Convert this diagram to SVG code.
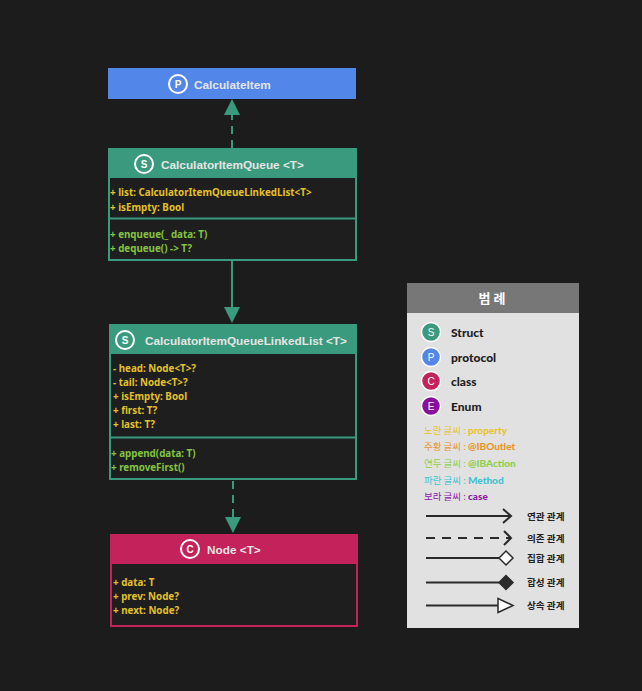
<svg xmlns="http://www.w3.org/2000/svg" width="642" height="691" viewBox="0 0 642 691">
  <style>
    .hdr { font-family: "Liberation Sans", Arial, sans-serif; font-weight: bold; font-size: 11.8px; fill: #e4e4e4; }
    .badge { fill: none; stroke: #ffffff; stroke-width: 2; }
    .badgeTxt { font-family: "Liberation Sans", Arial, sans-serif; font-weight: bold; font-size: 10px; fill: #ffffff; text-anchor: middle; }
    .attr { font-family: "Noto Sans", sans-serif; font-weight: bold; font-size: 9.8px; fill: #e3c12c; }
    .meth { font-family: "Noto Sans", sans-serif; font-weight: bold; font-size: 9.8px; fill: #84c441; }
    .body { fill: #1e1e1e; stroke-width: 2; }
    .conn { stroke: #3a9a7d; stroke-width: 2; fill: none; }
    .kind { font-family: "Lato", sans-serif; font-weight: 900; font-size: 12px; fill: #1e1e1e; }
    .lgBadge { stroke: #ffffff; stroke-width: 1.5; }
    .lgBadgeTxt { font-family: "Liberation Sans", Arial, sans-serif; font-size: 10px; fill: #ffffff; text-anchor: middle; }
    .note { font-family: "Noto Sans CJK KR", sans-serif; font-size: 9.5px; }
    .noteKey { font-family: "Lato", "Noto Sans CJK KR", sans-serif; font-weight: 900; font-size: 10px; }
    .rel { font-family: "Noto Sans CJK KR", sans-serif; font-weight: bold; font-size: 9.6px; fill: #222222; }
    .lgLine { stroke: #2a2a2a; stroke-width: 2; fill: none; }
  </style>

  <rect width="642" height="691" fill="#1c1c1c"/>

  <!-- connectors -->
  <g id="connectors">
    <line class="conn" x1="232" y1="148" x2="232" y2="115" stroke-dasharray="8,6"/>
    <path d="M224,115 L232,99 L240,115 Z" fill="#3a9a7d"/>
    <line class="conn" x1="232" y1="261" x2="232" y2="307"/>
    <path d="M224,307 L232,323 L240,307 Z" fill="#3a9a7d"/>
    <line class="conn" x1="233" y1="481" x2="233" y2="517" stroke-dasharray="8,6"/>
    <path d="M225,517 L233,533 L241,517 Z" fill="#3a9a7d"/>
  </g>

  <!-- protocol CalculateItem -->
  <g id="calculateItem">
    <rect x="108" y="68" width="248" height="31" fill="#5287e9"/>
    <circle class="badge" cx="178" cy="84" r="9"/>
    <text class="badgeTxt" x="178" y="87.5">P</text>
    <text class="hdr" x="194" y="88.5">CalculateItem</text>
  </g>

  <!-- struct CalculatorItemQueue -->
  <g id="calculatorItemQueue">
    <rect class="body" x="109" y="149" width="247" height="111" stroke="#3a9a7d"/>
    <rect x="108" y="148" width="249" height="30" fill="#3a9a7d"/>
    <line x1="109" y1="218.5" x2="356" y2="218.5" stroke="#3a9a7d" stroke-width="2"/>
    <circle class="badge" cx="144" cy="164" r="9"/>
    <text class="badgeTxt" x="144" y="167.5">S</text>
    <text class="hdr" x="161" y="168.5">CalculatorItemQueue &lt;T&gt;</text>
    <text class="attr" x="110" y="195.5">+ list: CalculatorItemQueueLinkedList&lt;T&gt;</text>
    <text class="attr" x="110" y="210.5">+ isEmpty: Bool</text>
    <text class="meth" x="110" y="237.5">+ enqueue(_ data: T)</text>
    <text class="meth" x="110" y="251.5">+ dequeue() -&gt; T?</text>
  </g>

  <!-- struct CalculatorItemQueueLinkedList -->
  <g id="calculatorItemQueueLinkedList">
    <rect class="body" x="110" y="325" width="246" height="154" stroke="#3a9a7d"/>
    <rect x="109" y="324" width="248" height="30" fill="#3a9a7d"/>
    <line x1="110" y1="437.5" x2="356" y2="437.5" stroke="#3a9a7d" stroke-width="2"/>
    <circle class="badge" cx="125" cy="340" r="9"/>
    <text class="badgeTxt" x="125" y="343.5">S</text>
    <text class="hdr" x="145" y="344.5">CalculatorItemQueueLinkedList &lt;T&gt;</text>
    <text class="attr" x="113" y="371.5">- head: Node&lt;T&gt;?</text>
    <text class="attr" x="113" y="385.5">- tail: Node&lt;T&gt;?</text>
    <text class="attr" x="113" y="399.5">+ isEmpty: Bool</text>
    <text class="attr" x="113" y="413.5">+ first: T?</text>
    <text class="attr" x="113" y="427.5">+ last: T?</text>
    <text class="meth" x="111" y="456.5">+ append(data: T)</text>
    <text class="meth" x="111" y="470.5">+ removeFirst()</text>
  </g>

  <!-- class Node -->
  <g id="node">
    <rect class="body" x="111" y="535" width="246" height="91" stroke="#c4225b"/>
    <rect x="110" y="534" width="248" height="30" fill="#c4225b"/>
    <circle class="badge" cx="190" cy="549" r="9"/>
    <text class="badgeTxt" x="190" y="552.5">C</text>
    <text class="hdr" x="207" y="553.5">Node &lt;T&gt;</text>
    <text class="attr" x="113" y="585.5">+ data: T</text>
    <text class="attr" x="113" y="600">+ prev: Node?</text>
    <text class="attr" x="113" y="613.5">+ next: Node?</text>
  </g>

  <!-- legend -->
  <g id="legend">
    <rect x="407" y="283" width="172" height="345" fill="#e1e1e1"/>
    <rect x="407" y="283" width="172" height="30" fill="#777777"/>
    <text x="492" y="303" text-anchor="middle" font-family="Noto Sans CJK KR, sans-serif" font-weight="bold" font-size="13" fill="#ffffff">범 례</text>

    <circle class="lgBadge" cx="431" cy="332" r="9.5" fill="#3a9a7d"/>
    <text class="lgBadgeTxt" x="431" y="335.5">S</text>
    <text class="kind" x="451" y="336.5">Struct</text>
    <circle class="lgBadge" cx="431" cy="357" r="9.5" fill="#5287e9"/>
    <text class="lgBadgeTxt" x="431" y="360.5">P</text>
    <text class="kind" x="451" y="361.5">protocol</text>
    <circle class="lgBadge" cx="431" cy="381" r="9.5" fill="#c4225b"/>
    <text class="lgBadgeTxt" x="431" y="384.5">C</text>
    <text class="kind" x="451" y="385.5">class</text>
    <circle class="lgBadge" cx="431" cy="406" r="9.5" fill="#8a0fa0"/>
    <text class="lgBadgeTxt" x="431" y="409.5">E</text>
    <text class="kind" x="451" y="410.5">Enum</text>

    <text x="424" y="433.5"><tspan class="note" fill="#e8c42e">노란 글씨 : </tspan><tspan class="noteKey" fill="#e8c42e">property</tspan></text>
    <text x="424" y="450"><tspan class="note" fill="#e8962e">주황 글씨 : </tspan><tspan class="noteKey" fill="#e8962e">@IBOutlet</tspan></text>
    <text x="424" y="467"><tspan class="note" fill="#8cd04c">연두 글씨 : </tspan><tspan class="noteKey" fill="#8cd04c">@IBAction</tspan></text>
    <text x="424" y="484"><tspan class="note" fill="#3ec3d3">파란 글씨 : </tspan><tspan class="noteKey" fill="#3ec3d3">Method</tspan></text>
    <text x="424" y="500"><tspan class="note" fill="#8a1aa3">보라 글씨 : </tspan><tspan class="noteKey" fill="#8a1aa3">case</tspan></text>

    <line class="lgLine" x1="426" y1="516" x2="511" y2="516"/>
    <path class="lgLine" d="M503,509 L511,516 L503,523"/>
    <text class="rel" x="527" y="519.5">연관 관계</text>

    <line class="lgLine" x1="426" y1="538" x2="511" y2="538" stroke-dasharray="9,7"/>
    <path class="lgLine" d="M504,531 L511,538 L504,545"/>
    <text class="rel" x="527" y="541.5">의존 관계</text>

    <line class="lgLine" x1="426" y1="558" x2="499" y2="558"/>
    <path d="M499,558 L506,551 L513,558 L506,565 Z" fill="#ffffff" stroke="#2a2a2a" stroke-width="1.5"/>
    <text class="rel" x="527" y="561.5">집합 관계</text>

    <line class="lgLine" x1="426" y1="582.5" x2="499" y2="582.5"/>
    <path d="M499,582.5 L506,575.5 L513,582.5 L506,589.5 Z" fill="#2a2a2a" stroke="#2a2a2a" stroke-width="1.5"/>
    <text class="rel" x="527" y="586">합성 관계</text>

    <line class="lgLine" x1="426" y1="605.5" x2="498" y2="605.5"/>
    <path d="M498,598.5 L513,605.5 L498,612.5 Z" fill="#ffffff" stroke="#2a2a2a" stroke-width="1.5"/>
    <text class="rel" x="527" y="609">상속 관계</text>
  </g>
</svg>
